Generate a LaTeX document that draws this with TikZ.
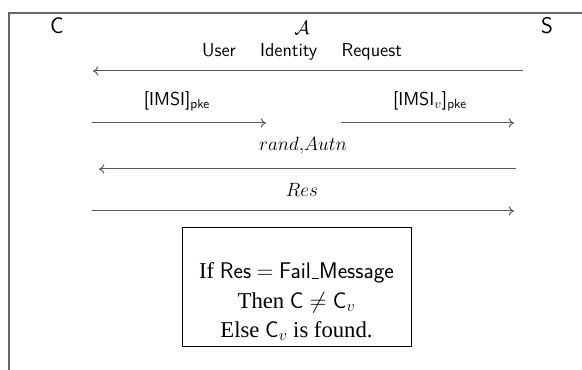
\documentclass[tikz,border=0pt]{standalone}
\usepackage{fontspec}
\setmainfont{Liberation Serif}
\usetikzlibrary{arrows.meta}
\tikzset{
  frameline/.style={draw=black!60, line width=0.8pt},
  msg/.style={draw=black!65, line width=0.75pt, -{To[length=4pt,width=7pt]}},
  party/.style={font=\sffamily\fontsize{17}{20}\selectfont, inner sep=0pt},
  lbl/.style={font=\sffamily\fontsize{14}{17}\selectfont, inner sep=0pt},
  mlbl/.style={font=\fontsize{13.5}{16}\selectfont, inner sep=0pt},
  checkbox/.style={draw=black, line width=0.6pt, minimum width=171.75pt, minimum height=89.25pt, inner sep=0pt,
    font=\fontsize{17}{22}\selectfont, align=center}
}
\newcommand{\lowbar}{\kern.06em\vbox{\hrule width.3em height 0.5pt}}
\begin{document}
\begin{tikzpicture}[x=0.75pt,y=-0.75pt]
\useasboundingbox (0,0) rectangle (582,370);
% frame
\coordinate (ftl) at (9,13);
\coordinate (ftr) at (582,13);
\coordinate (fbl) at (9,370);
\draw[frameline] (ftr) -- (ftl) -- (fbl);
% parties
\node[party] (C) at (57,26) {C};
\node[party] (S) at (547,26) {S};
\node[inner sep=0pt, font=\fontsize{15}{18}\selectfont] (A) at (302,28) {$\mathcal{A}$};
% message 1
\node[lbl] (l1) at (302,52) {User\hspace{1.3em}Identity\hspace{1.3em}Request};
\coordinate (m1s) at (523,71);
\coordinate (m1e) at (93,71);
\draw[msg] (m1s) -- (m1e);
% message 2
\node[lbl] (l2a) at (177,101) {[IMSI]$_{\mbox{\sffamily\fontsize{10}{12}\selectfont pke}}$};
\coordinate (m2as) at (92,123);
\coordinate (m2ae) at (266,123);
\draw[msg] (m2as) -- (m2ae);
\node[lbl] (l2b) at (430,101) {[IMSI$_v$]$_{\mbox{\sffamily\fontsize{10}{12}\selectfont pke}}$};
\coordinate (m2bs) at (341,123);
\coordinate (m2be) at (514,123);
\draw[msg] (m2bs) -- (m2be);
% message 3
\node[mlbl] (l3) at (303,146) {$rand{,}Autn$};
\coordinate (m3s) at (516,169);
\coordinate (m3e) at (99,169);
\draw[msg] (m3s) -- (m3e);
% message 4
\node[mlbl] (l4) at (302,190) {$Res$};
\coordinate (m4s) at (92,211);
\coordinate (m4e) at (514,211);
\draw[msg] (m4s) -- (m4e);
% decision box
\node[checkbox] (box) at (296.5,286.5) {\rule{0pt}{35pt}If \textsf{Res} $=$ \textsf{Fail\lowbar Message}\\Then $\textsf{C}\neq\textsf{C}_v$\\Else $\textsf{C}_v$ is found.};
\end{tikzpicture}
\end{document}
